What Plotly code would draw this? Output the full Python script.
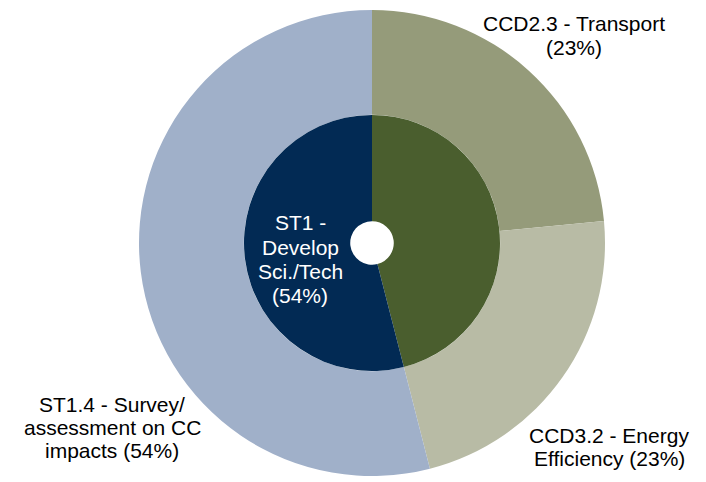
import plotly.graph_objects as go

# Outer ring: sub-categories, clockwise from 12 o'clock
outer_labels = ["CCD2.3 - Transport", "CCD3.2 - Energy Efficiency",
                "ST1.4 - Survey/assessment on CC impacts"]
outer_values = [23.5, 22.5, 54]
outer_colors = ["#959B7A", "#B8BBA5", "#A0B0C9"]

# Inner ring: top-level categories
inner_labels = ["CCD", "ST1 - Develop Sci./Tech"]
inner_values = [46, 54]
inner_colors = ["#4A5E2E", "#022A54"]

# Label text split into lines as drawn in the chart
outer_lines = [["CCD2.3 - Transport", "(23%)"],
               ["CCD3.2 - Energy", "Efficiency (23%)"],
               ["ST1.4 - Survey/", "assessment on CC", "impacts (54%)"]]
inner_lines = ["ST1 -", "Develop", "Sci./Tech", "(54%)"]

W, H = 706, 482
OFF = 8  # page body margin shifts the figure
FONT = "Arial, Liberation Sans, sans-serif"


def dom_x(a, b):
    return [(a - OFF) / W, (b - OFF) / W]


def dom_y(top, bottom):
    return [(H - (bottom - OFF)) / H, (H - (top - OFF)) / H]


fig = go.Figure()

# Outer ring
fig.add_trace(
    go.Pie(
        labels=outer_labels,
        values=outer_values,
        sort=False,
        direction="clockwise",
        rotation=0,
        hole=0.55,
        marker=dict(colors=outer_colors, line=dict(width=0)),
        textinfo="none",
        hoverinfo="label+percent",
        domain=dict(x=dom_x(139, 605), y=dom_y(10, 476)),
        showlegend=False,
    )
)

# Inner ring
fig.add_trace(
    go.Pie(
        labels=inner_labels,
        values=inner_values,
        sort=False,
        direction="clockwise",
        rotation=0,
        hole=0.17,
        marker=dict(colors=inner_colors, line=dict(width=0)),
        textinfo="none",
        hoverinfo="label+percent",
        domain=dict(x=dom_x(244, 500), y=dom_y(115, 371)),
        showlegend=False,
    )
)


def add_lines(lines, cx, cy0, step, color):
    # one annotation per line so the spacing matches the original
    for i, txt in enumerate(lines):
        fig.add_annotation(
            x=(cx - OFF) / W, y=1 - (cy0 + i * step - OFF) / H,
            xref="paper", yref="paper",
            text=txt, showarrow=False,
            xanchor="center", yanchor="middle",
            font=dict(family=FONT, size=21, color=color),
        )


# Label placement (pixel centres)
add_lines(outer_lines[0], 574, 24, 23, "black")
add_lines(outer_lines[1], 609, 435, 23, "black")
add_lines(outer_lines[2], 112, 404, 23, "black")
add_lines(inner_lines, 300, 223, 24, "white")

fig.update_layout(
    width=W,
    height=H,
    margin=dict(l=0, r=0, t=0, b=0),
    paper_bgcolor="white",
    plot_bgcolor="white",
)

fig.write_html("out.html")
